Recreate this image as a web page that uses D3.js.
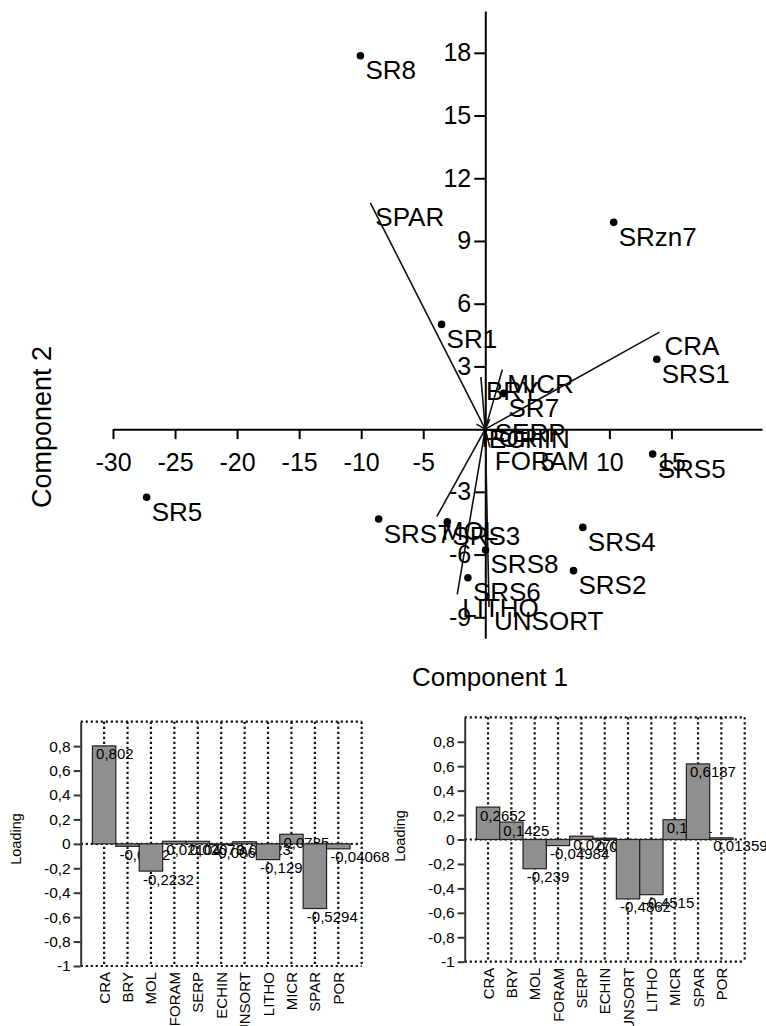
<!DOCTYPE html>
<html>
<head>
<meta charset="utf-8">
<script src="https://cdn.jsdelivr.net/npm/d3@7"></script>
<style>
  body { margin: 0; background: #fff; }
  svg { display: block; font-family: "Liberation Sans", Arial, sans-serif; }
</style>
</head>
<body>
<svg id="chart" width="766" height="1026"></svg>
<script>
// Sample scores (PCA component 1 / component 2)
const sampleNames = ["SR1", "SR5", "SR7", "SR8", "SRzn7", "SRS1", "SRS2", "SRS3", "SRS4", "SRS5", "SRS6", "SRS7", "SRS8"];
const sampleComp1 = [-3.52, -27.29, 1.47, -10.06, 10.35, 13.82, 7.11, -3.06, 7.86, 13.49, -1.40, -8.59, 0.02];
const sampleComp2 = [5.01, -3.26, 1.71, 17.86, 9.89, 3.34, -6.77, -4.43, -4.70, -1.19, -7.11, -4.30, -5.78];

// Variable loadings
const variables = ["CRA", "BRY", "MOL", "FORAM", "SERP", "ECHIN", "UNSORT", "LITHO", "MICR", "SPAR", "POR"];
const loading1 = [0.802, -0.0202, -0.2232, 0.02104, 0.02073, -0.006533, 0.01723, -0.129, 0.0785, -0.5294, -0.04068];
const loading2 = [0.2652, 0.1425, -0.239, -0.04984, 0.02704, 0.01054, -0.4862, -0.4515, 0.1621, 0.6187, 0.01359];

// Tick labels
const biplotXTicks = [-30, -25, -20, -15, -10, -5, 5, 10, 15];
const biplotYTicks = [-9, -6, -3, 3, 6, 9, 12, 15, 18];
const loadingTicks = [-1, -0.8, -0.6, -0.4, -0.2, 0, 0.2, 0.4, 0.6, 0.8];

const vectorScale = 17.5; // biplot arrow length multiplier
const comma = v => String(v).replace(".", ",");

const svg = d3.select("#chart");

// ---------- Biplot ----------
const x = d3.scaleLinear().domain([-30, 22.3]).range([113, 762]);
const y = d3.scaleLinear().domain([-10, 20]).range([638.2, 11]);

const bi = svg.append("g");

// x axis through origin
const xAx = bi.append("g")
    .attr("transform", `translate(0,${y(0)})`)
    .call(d3.axisBottom(x).tickValues(biplotXTicks).tickSize(10).tickSizeOuter(0).tickFormat(d => String(d)));
xAx.attr("font-size", 25).attr("font-family", null);
xAx.selectAll("text").attr("y", 42).attr("dy", 0).attr("fill", "#000");

// y axis through origin
const yAx = bi.append("g")
    .attr("transform", `translate(${x(0)},0)`)
    .call(d3.axisLeft(y).tickValues(biplotYTicks).tickSize(11).tickSizeOuter(0).tickFormat(d => String(d)));
yAx.attr("font-size", 25).attr("font-family", null);
yAx.selectAll("text").attr("fill", "#000");

bi.selectAll(".domain, .tick line").attr("stroke", "#000").attr("stroke-width", 2);

// loading vectors
bi.selectAll(".vec")
    .data(variables)
    .enter().append("line")
    .attr("class", "vec")
    .attr("x1", x(0)).attr("y1", y(0))
    .attr("x2", (d, i) => x(loading1[i] * vectorScale))
    .attr("y2", (d, i) => y(loading2[i] * vectorScale))
    .attr("stroke", "#111")
    .attr("stroke-width", 1.6);

bi.selectAll(".vecLabel")
    .data(variables)
    .enter().append("text")
    .attr("class", "vecLabel")
    .attr("x", (d, i) => x(loading1[i] * vectorScale) + 5)
    .attr("y", (d, i) => y(loading2[i] * vectorScale) + 23)
    .attr("font-size", 26)
    .text(d => d);

// sample points
bi.selectAll(".pt")
    .data(sampleNames)
    .enter().append("circle")
    .attr("class", "pt")
    .attr("cx", (d, i) => x(sampleComp1[i]))
    .attr("cy", (d, i) => y(sampleComp2[i]))
    .attr("r", 3.8)
    .attr("fill", "#000");

bi.selectAll(".ptLabel")
    .data(sampleNames)
    .enter().append("text")
    .attr("class", "ptLabel")
    .attr("x", (d, i) => x(sampleComp1[i]) + 5)
    .attr("y", (d, i) => y(sampleComp2[i]) + 23.5)
    .attr("font-size", 26)
    .text(d => d);

// axis titles
svg.append("text")
    .attr("x", 490).attr("y", 686)
    .attr("text-anchor", "middle")
    .attr("font-size", 26)
    .text("Component 1");

svg.append("text")
    .attr("transform", "translate(51,427) rotate(-90)")
    .attr("text-anchor", "middle")
    .attr("font-size", 27)
    .text("Component 2");

// ---------- Loading bar charts ----------
function drawLoadings(values, box) {
    const g = svg.append("g");
    const xb = d3.scalePoint().domain(variables).range([box.left, box.right]).padding(1);
    const step = xb.step();
    const yb = d3.scaleLinear().domain([-1, 1]).range([box.bottom, box.top]);

    const dotted = sel => sel.attr("stroke", "#111").attr("stroke-width", 2.2).attr("stroke-dasharray", "2.2,2.8");

    // dotted grid: category lines, frame, zero line
    g.selectAll(".grid")
        .data(variables)
        .enter().append("line")
        .attr("x1", d => xb(d)).attr("x2", d => xb(d))
        .attr("y1", box.top).attr("y2", box.bottom)
        .call(dotted);
    g.append("line").attr("x1", box.right).attr("x2", box.right)
        .attr("y1", box.top).attr("y2", box.bottom).call(dotted);
    g.append("line").attr("x1", box.left).attr("x2", box.right)
        .attr("y1", box.top).attr("y2", box.top).call(dotted);
    g.append("line").attr("x1", box.left).attr("x2", box.right)
        .attr("y1", box.bottom).attr("y2", box.bottom).call(dotted);
    g.append("line").attr("x1", box.left).attr("x2", box.right)
        .attr("y1", yb(0)).attr("y2", yb(0)).call(dotted);

    // bars with value labels, drawn in order so later bars cover earlier labels
    variables.forEach((v, i) => {
        const val = values[i];
        g.append("rect")
            .attr("x", xb(v) - step / 2)
            .attr("y", yb(Math.max(0, val)))
            .attr("width", step)
            .attr("height", Math.abs(yb(val) - yb(0)))
            .attr("fill", "#8f8f8f")
            .attr("stroke", "#222")
            .attr("stroke-width", 1.2);
        g.append("text")
            .attr("x", xb(v) - 8)
            .attr("y", yb(val) + 13.5)
            .attr("font-size", 15)
            .text(comma(val));
    });

    // left axis
    const ax = g.append("g")
        .attr("transform", `translate(${box.left},0)`)
        .call(d3.axisLeft(yb).tickValues(loadingTicks).tickSize(7).tickSizeOuter(0).tickFormat(comma));
    ax.attr("font-size", 15.5).attr("font-family", null);
    ax.selectAll(".domain, .tick line").attr("stroke", "#333").attr("stroke-width", 2);
    ax.selectAll("text").attr("fill", "#000");

    // category labels
    g.selectAll(".cat")
        .data(variables)
        .enter().append("text")
        .attr("transform", d => `translate(${xb(d) + 5.5},${box.bottom + 6}) rotate(-90)`)
        .attr("text-anchor", "end")
        .attr("font-size", 15)
        .text(d => d);

    // y title
    g.append("text")
        .attr("transform", `translate(${box.left - 60},${box.titleY}) rotate(-90)`)
        .attr("text-anchor", "middle")
        .attr("font-size", 14.5)
        .text("Loading");
}

drawLoadings(loading1, { left: 80.7, right: 361.7, top: 721.7, bottom: 966, titleY: 839 });
drawLoadings(loading2, { left: 464.7, right: 744.7, top: 717.3, bottom: 961.7, titleY: 836 });
</script>
</body>
</html>
